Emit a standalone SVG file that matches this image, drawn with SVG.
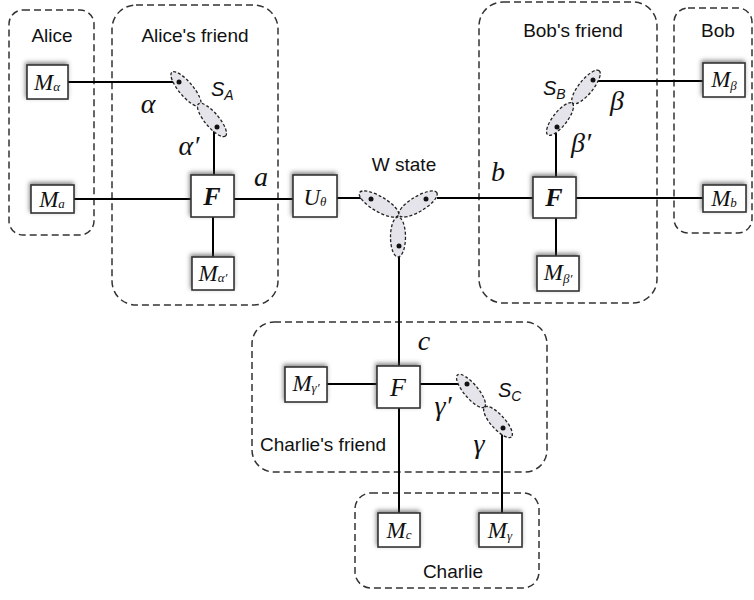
<svg xmlns="http://www.w3.org/2000/svg" width="754" height="600" viewBox="0 0 754 600">
<defs>
<filter id="sh" x="-40%" y="-40%" width="180%" height="180%">
<feDropShadow dx="-1" dy="-2" stdDeviation="2.2" flood-color="#444" flood-opacity="0.65"/>
</filter>
</defs>
<style>
.grp{fill:none;stroke:#333;stroke-width:1.5;stroke-dasharray:7,4}
.lbl{font-family:"Liberation Sans",Arial,sans-serif;font-size:19px;fill:#111}
.box{fill:#fff;stroke:#333;stroke-width:1.6;filter:url(#sh)}
.mt{font-family:"Liberation Serif","Times New Roman",serif;font-style:italic;font-size:23px;fill:#111;text-anchor:middle}
.sub{font-size:13px}
.ft{font-family:"Liberation Serif","Times New Roman",serif;font-style:italic;font-size:26px;fill:#111;text-anchor:middle}
.gk{font-family:"Liberation Serif","Times New Roman",serif;font-style:italic;font-size:28px;fill:#111;text-anchor:middle}
.sl{font-family:"Liberation Sans",Arial,sans-serif;font-style:italic;font-size:20px;fill:#111}
.sls{font-size:14px}
.wire{stroke:#000;stroke-width:2;fill:none}
.ell{fill:#e4e4ea;stroke:#222;stroke-width:1.3;stroke-dasharray:3,2}
.dot{fill:#111}
</style>

<g id="alice">
<rect class="grp" x="9" y="10" width="85" height="225" rx="14"/>
<text class="lbl" x="52" y="42" text-anchor="middle">Alice</text>
</g>
<g id="alices-friend">
<rect class="grp" x="112" y="5" width="166" height="300" rx="24"/>
<text class="lbl" x="195" y="42" text-anchor="middle">Alice's friend</text>
</g>
<g id="bobs-friend">
<rect class="grp" x="479" y="2" width="178" height="301" rx="24"/>
<text class="lbl" x="573" y="37" text-anchor="middle">Bob's friend</text>
</g>
<g id="bob">
<rect class="grp" x="674" y="8" width="78" height="225" rx="14"/>
<text class="lbl" x="718" y="37" text-anchor="middle">Bob</text>
</g>
<g id="charlies-friend">
<rect class="grp" x="252" y="322" width="295" height="150" rx="22"/>
<text class="lbl" x="260" y="451">Charlie's friend</text>
</g>
<g id="charlie">
<rect class="grp" x="355" y="493" width="184" height="95" rx="16"/>
<text class="lbl" x="453" y="578" text-anchor="middle">Charlie</text>
</g>

<g id="connectors">
<line class="wire" x1="68" y1="82" x2="179" y2="82"/>
<line class="wire" x1="214" y1="130" x2="214" y2="175"/>
<line class="wire" x1="74" y1="199" x2="191" y2="199"/>
<line class="wire" x1="234" y1="199" x2="293" y2="199"/>
<line class="wire" x1="213" y1="217" x2="213" y2="257"/>
<line class="wire" x1="337" y1="198" x2="361" y2="198"/>
<line class="wire" x1="437" y1="198" x2="533" y2="198"/>
<line class="wire" x1="576" y1="198" x2="703" y2="198"/>
<line class="wire" x1="593" y1="81" x2="703" y2="81"/>
<line class="wire" x1="556" y1="133" x2="556" y2="177"/>
<line class="wire" x1="556" y1="218" x2="556" y2="256"/>
<line class="wire" x1="399" y1="257" x2="399" y2="366"/>
<line class="wire" x1="327" y1="384" x2="377" y2="384"/>
<line class="wire" x1="420" y1="384" x2="467" y2="384"/>
<line class="wire" x1="399" y1="408" x2="399" y2="513"/>
<line class="wire" x1="502" y1="432" x2="502" y2="513"/>
</g>

<g id="SA">
<ellipse class="ell" cx="186" cy="89" rx="22" ry="7" transform="rotate(50 186 89)"/>
<ellipse class="ell" cx="212" cy="120" rx="21" ry="7" transform="rotate(50 212 120)"/>
<circle class="dot" cx="179" cy="82" r="2.5"/>
<circle class="dot" cx="217" cy="127" r="2.5"/>
<text class="sl" x="211" y="96">S<tspan class="sls" dy="4">A</tspan></text>
</g>
<g id="SB">
<ellipse class="ell" cx="586" cy="87" rx="21" ry="7" transform="rotate(-51 586 87)"/>
<ellipse class="ell" cx="560" cy="119" rx="20" ry="7" transform="rotate(-52 560 119)"/>
<circle class="dot" cx="593" cy="80" r="2.5"/>
<circle class="dot" cx="557" cy="127" r="2.5"/>
<text class="sl" x="543" y="95">S<tspan class="sls" dy="4">B</tspan></text>
</g>
<g id="SC">
<ellipse class="ell" cx="471" cy="391" rx="21" ry="7" transform="rotate(50 471 391)"/>
<ellipse class="ell" cx="498" cy="422" rx="20" ry="7" transform="rotate(48 498 422)"/>
<circle class="dot" cx="467" cy="384" r="2.5"/>
<circle class="dot" cx="503" cy="428" r="2.5"/>
<text class="sl" x="498" y="397">S<tspan class="sls" dy="4">C</tspan></text>
</g>
<g id="wstate">
<ellipse class="ell" cx="379" cy="204" rx="22.5" ry="7.5" transform="rotate(30.5 379 204)"/>
<ellipse class="ell" cx="418" cy="204" rx="22" ry="7.5" transform="rotate(-31 418 204)"/>
<ellipse class="ell" cx="398" cy="237" rx="7.5" ry="20"/>
<circle class="dot" cx="371" cy="199" r="2.5"/>
<circle class="dot" cx="426" cy="199" r="2.5"/>
<circle class="dot" cx="399" cy="246" r="2.5"/>
<text class="lbl" x="404" y="171" text-anchor="middle">W state</text>
</g>

<g id="M-alpha">
<rect class="box" x="27" y="65" width="41" height="34"/>
<text class="mt" x="47" y="90">M<tspan class="sub" dy="1">α</tspan></text>
</g>
<g id="M-a">
<rect class="box" x="31" y="185" width="43" height="28"/>
<text class="mt" x="52" y="207">M<tspan class="sub" dy="1">a</tspan></text>
</g>
<g id="F-A">
<rect class="box" x="191" y="175" width="43" height="42"/>
<text class="ft" x="212" y="205" font-weight="bold">F</text>
</g>
<g id="M-alpha-prime">
<rect class="box" x="192" y="257" width="42" height="33"/>
<text class="mt" x="213" y="281">M<tspan class="sub" dy="1">α′</tspan></text>
</g>
<g id="U-theta">
<rect class="box" x="293" y="175" width="44" height="42"/>
<text class="mt" x="315" y="205">U<tspan class="sub" dy="1">θ</tspan></text>
</g>
<g id="F-B">
<rect class="box" x="533" y="177" width="43" height="41"/>
<text class="ft" x="554" y="206" font-weight="bold">F</text>
</g>
<g id="M-beta-prime">
<rect class="box" x="537" y="256" width="42" height="35"/>
<text class="mt" x="558" y="280">M<tspan class="sub" dy="3">β′</tspan></text>
</g>
<g id="M-beta">
<rect class="box" x="703" y="63" width="42" height="34"/>
<text class="mt" x="724" y="87">M<tspan class="sub" dy="3">β</tspan></text>
</g>
<g id="M-b">
<rect class="box" x="703" y="185" width="43" height="27"/>
<text class="mt" x="724" y="206">M<tspan class="sub" dy="1">b</tspan></text>
</g>
<g id="F-C">
<rect class="box" x="377" y="366" width="43" height="42"/>
<text class="ft" x="398" y="396">F</text>
</g>
<g id="M-gamma-prime">
<rect class="box" x="285" y="367" width="42" height="35"/>
<text class="mt" x="306" y="391">M<tspan class="sub" dy="1">γ′</tspan></text>
</g>
<g id="M-c">
<rect class="box" x="378" y="513" width="42" height="34"/>
<text class="mt" x="399" y="538">M<tspan class="sub" dy="1">c</tspan></text>
</g>
<g id="M-gamma">
<rect class="box" x="479" y="513" width="43" height="34"/>
<text class="mt" x="500" y="538">M<tspan class="sub" dy="2">γ</tspan></text>
</g>

<g id="labels">
<text class="gk" x="148" y="113">α</text>
<text class="gk" x="189" y="155">α′</text>
<text class="gk" x="261" y="186">a</text>
<text class="gk" x="498" y="181">b</text>
<text class="gk" x="617" y="110">β</text>
<text class="gk" x="581" y="152">β′</text>
<text class="gk" x="424" y="350">c</text>
<text class="gk" x="443" y="415">γ′</text>
<text class="gk" x="479" y="453">γ</text>
</g>
</svg>
